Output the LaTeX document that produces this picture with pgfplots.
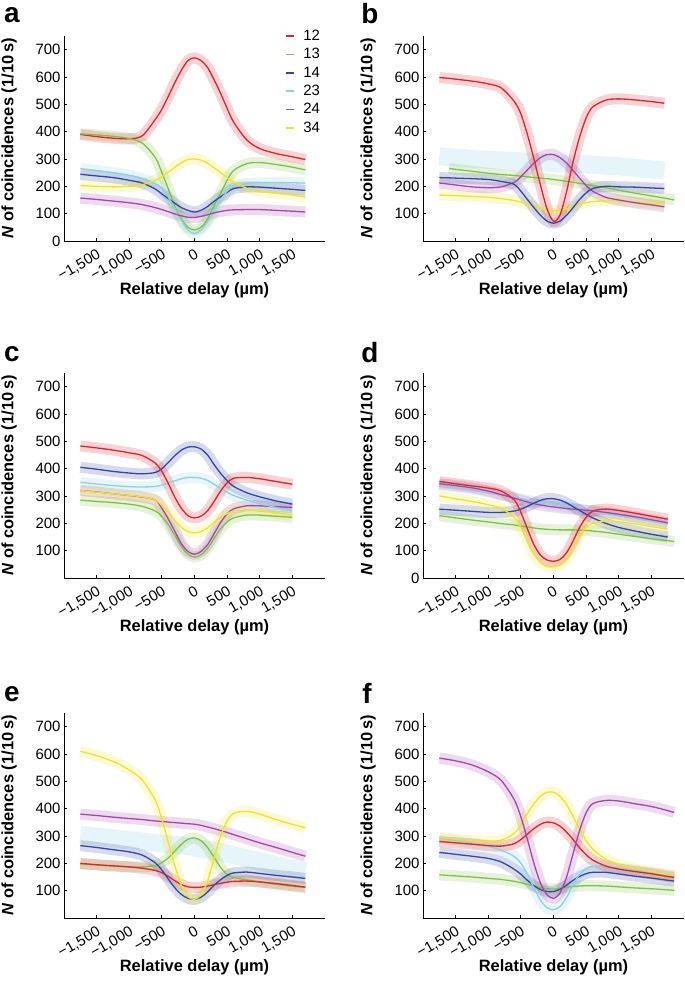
\documentclass[border=0pt]{standalone}
\usepackage{pgfplots}
\pgfplotsset{compat=1.18}
\usepackage{pgfplotstable}
\usepackage{fontspec}
\setmainfont{Liberation Sans}

\definecolor{c12}{RGB}{218,37,44}
\definecolor{c13}{RGB}{128,192,70}
\definecolor{c14}{RGB}{52,72,160}
\definecolor{c23}{RGB}{140,208,226}
\definecolor{c24}{RGB}{164,72,168}
\definecolor{c34}{RGB}{236,228,40}

% fitted curves (x in um, y in counts per 10 s)
\pgfplotstableread{
x s12 s13 s14 s23 s24 s34
-1750 390 392 244 265 157 203
-1500 382 388 238 258 152 200
-1250 376 383 232 250 146 198
-1000 374 375 222 240 140 200
-800 385 358 212 228 133 206
-600 445 305 190 210 122 222
-500 482 250 172 192 115 235
-400 530 190 155 160 107 252
-300 580 125 138 118 99 270
-200 625 80 122 75 92 287
-100 660 50 112 40 87 298
0 670 40 106 27 86 300
100 660 50 112 40 90 296
200 635 80 126 70 96 285
300 590 130 145 110 103 268
400 540 175 162 150 108 250
500 485 222 178 182 112 232
600 435 258 192 200 114 215
800 370 283 198 210 115 193
1000 338 287 197 213 115 182
1250 320 280 193 214 112 175
1500 308 270 189 213 109 168
1700 298 260 185 212 106 160
}\tabA

\pgfplotstableread{
x s12 s13 s14 s23 s24 s34
-1750 598 nan 232 310 212 168
-1600 595 266 231 307 208 167
-1500 592 262 230 305 205 166
-1250 585 255 228 300 198 163
-1000 575 248 225 297 195 160
-800 560 243 218 295 198 155
-600 510 240 207 293 215 148
-500 465 237 182 292 235 142
-400 390 235 152 290 260 135
-300 300 232 122 289 285 127
-200 205 230 94 288 305 119
-100 118 228 73 287 316 113
0 72 225 65 285 316 110
100 95 222 73 284 305 112
200 180 218 94 283 285 118
300 290 215 122 282 258 126
400 380 211 152 281 230 134
500 450 207 176 280 203 140
600 490 203 192 279 182 144
800 515 195 200 276 160 147
1000 520 186 198 273 150 146
1250 516 175 197 268 140 143
1500 510 165 194 262 132 139
1700 504 157 192 257 125 136
1850 nan 150 nan nan nan nan
}\tabB

\pgfplotstableread{
x s12 s13 s14 s23 s24 s34
-1750 483 285 405 350 320 320
-1500 476 280 398 344 315 314
-1250 468 276 390 338 308 308
-1000 458 270 384 334 302 302
-800 448 262 381 333 296 297
-600 420 245 386 335 285 285
-500 390 225 400 340 255 265
-400 345 195 423 348 215 240
-300 295 155 448 356 170 210
-200 255 115 468 363 125 185
-100 228 87 479 368 97 170
0 220 77 480 368 87 165
100 226 85 472 365 97 170
200 246 108 450 357 122 183
300 280 145 415 343 162 203
400 318 180 383 328 203 222
500 348 205 356 314 235 236
600 365 220 335 302 253 245
800 368 230 312 285 264 250
1000 363 230 297 272 264 245
1250 353 226 282 258 261 238
1500 343 222 270 246 258 230
}\tabC

\pgfplotstableread{
x s12 s13 s14 s23 s24 s34
-1750 353 228 252 340 345 300
-1500 345 220 248 333 338 290
-1250 337 212 244 325 330 280
-1000 329 205 240 315 318 268
-800 318 199 240 305 305 255
-600 285 194 245 295 292 222
-500 240 190 252 290 285 185
-400 180 187 262 285 278 135
-300 122 183 274 280 272 88
-200 84 180 284 276 267 57
-100 66 178 290 272 263 42
0 61 177 290 268 260 40
100 68 176 285 264 257 47
200 92 176 275 260 254 70
300 135 176 261 256 252 110
400 185 175 247 252 250 155
500 222 174 233 248 248 185
600 245 172 220 244 246 200
800 252 167 200 236 240 208
1000 247 160 185 228 233 205
1250 237 152 172 218 224 198
1500 226 144 160 208 213 188
1750 215 137 150 198 202 178
1850 nan 133 nan nan nan nan
}\tabD

\pgfplotstableread{
x s12 s13 s14 s23 s24 s34
-1750 200 198 265 305 380 610
-1500 195 194 258 298 375 594
-1250 191 190 250 292 369 573
-1000 187 187 242 285 364 542
-800 182 187 230 280 360 505
-600 174 192 202 275 355 430
-500 166 203 175 272 353 362
-400 152 220 142 270 351 275
-300 136 245 110 268 349 190
-200 122 270 86 265 347 118
-100 114 288 72 262 345 78
0 112 293 68 258 343 68
100 113 283 76 254 339 85
200 117 258 95 250 333 135
300 122 222 120 246 327 220
400 127 185 140 241 320 300
500 131 160 156 236 313 355
600 134 148 165 230 305 383
800 135 140 168 218 290 390
1000 132 132 163 207 275 380
1250 126 123 156 193 258 360
1500 119 116 150 180 240 343
1700 113 112 145 170 226 330
}\tabE

\pgfplotstableread{
x s12 s13 s14 s23 s24 s34
-1750 280 158 240 292 585 295
-1500 275 154 233 284 575 288
-1250 270 150 226 274 560 282
-1000 265 145 218 262 535 280
-800 263 141 205 248 503 285
-600 272 134 178 225 432 310
-500 287 129 160 200 370 342
-400 307 123 138 160 288 382
-300 327 117 118 110 200 418
-200 343 111 104 65 128 445
-100 351 107 97 38 85 460
0 348 106 97 30 72 460
100 336 108 105 42 92 445
200 314 112 120 75 150 415
300 287 115 138 122 235 372
400 257 117 152 160 320 325
500 232 118 162 180 385 283
600 212 118 167 190 418 252
800 190 117 167 190 430 215
1000 179 114 161 182 428 196
1250 170 110 153 174 418 182
1500 162 107 146 166 408 170
1750 152 103 138 158 393 158
1850 149 101 135 155 386 154
}\tabF

\pgfplotsset{
  panel/.style={
    scale only axis, width=261bp, height=205bp,
    anchor=south west,
    xmin=-2000, xmax=2000, ymin=0, ymax=750,
    axis x line*=bottom, axis y line*=left,
    tick pos=left, tick align=inside, major tick length=3bp,
    axis line style={line width=0.9bp},
    every tick/.style={line width=0.8bp, black},
    xtick={-1500,-1000,-500,0,500,1000,1500},
    xticklabels={{−1,500},{−1,000},{−500},0,500,{1,000},{1,500}},
    ytick={100,200,...,700},
    /pgf/number format/assume math mode=true,
    ticklabel style={font=\fontsize{15}{18}\selectfont},
    xticklabel style={rotate=30, anchor=north east, inner sep=1bp},
    xticklabel shift=6bp,
    xlabel={\textbf{Relative delay (µm)}},
    ylabel={\textbf{\textit{N} of coincidences (1/10\,s)}},
    label style={font=\fontsize{16.5}{20}\selectfont},
    xlabel style={at={(axis description cs:0.5,-0.24)}, anchor=center},
    ylabel style={at={(axis description cs:-0.21,0.5)}, anchor=center},
  },
  halo/.style={line width=11bp, opacity=0.2, smooth, no markers},
  fit/.style={line width=1.3bp, smooth, no markers},
}
\newcommand{\pts}[3]{\addplot[halo,#1,forget plot] table[x=x,y=#2]{#3};}
\newcommand{\fit}[3]{\addplot[fit,#1] table[x=x,y=#2]{#3};}
\newcommand{\letter}[3]{\node[font=\fontsize{28}{30}\selectfont\bfseries] at (#1bp,#2bp) {#3};}

\begin{document}
\begin{tikzpicture}
\useasboundingbox (0,0) rectangle (685bp,986bp);

% a
\begin{axis}[panel, at={(64bp,745bp)}, ytick={0,100,...,700},
  legend style={at={(0.845,1.04)}, anchor=north west, draw=none, fill=none,
    font=\fontsize{15}{18}\selectfont, row sep=2.5bp, inner sep=0pt,
    /tikz/every odd column/.append style={column sep=7bp}},
  legend cell align=left,
  legend image code/.code={\draw[#1,line width=1.6bp] (0bp,0bp) -- (8bp,0bp);}]
\pts{c34}{s34}{\tabA} \pts{c24}{s24}{\tabA} \pts{c23}{s23}{\tabA}
\pts{c14}{s14}{\tabA} \pts{c13}{s13}{\tabA} \pts{c12}{s12}{\tabA}
\fit{c12}{s12}{\tabA} \fit{c13}{s13}{\tabA} \fit{c14}{s14}{\tabA}
\fit{c23}{s23}{\tabA} \fit{c24}{s24}{\tabA} \fit{c34}{s34}{\tabA}
\legend{12,13,14,23,24,34}
\end{axis}

% b
\begin{axis}[panel, at={(423bp,745bp)}]
\addplot[halo,c23,line width=18bp,opacity=0.22] table[x=x,y=s23]{\tabB};
\pts{c34}{s34}{\tabB} \pts{c24}{s24}{\tabB} \pts{c14}{s14}{\tabB}
\pts{c13}{s13}{\tabB} \pts{c12}{s12}{\tabB}
\fit{c34}{s34}{\tabB} \fit{c13}{s13}{\tabB} \fit{c24}{s24}{\tabB}
\fit{c14}{s14}{\tabB} \fit{c12}{s12}{\tabB}
\end{axis}

% c
\begin{axis}[panel, at={(64bp,408bp)}]
\pts{c13}{s13}{\tabC} \pts{c24}{s24}{\tabC} \pts{c34}{s34}{\tabC}
\pts{c23}{s23}{\tabC} \pts{c14}{s14}{\tabC} \pts{c12}{s12}{\tabC}
\fit{c13}{s13}{\tabC} \fit{c24}{s24}{\tabC} \fit{c34}{s34}{\tabC}
\fit{c23}{s23}{\tabC} \fit{c14}{s14}{\tabC} \fit{c12}{s12}{\tabC}
\end{axis}

% d
\begin{axis}[panel, at={(423bp,408bp)}, ytick={0,100,...,700}]
\pts{c13}{s13}{\tabD} \pts{c23}{s23}{\tabD} \pts{c24}{s24}{\tabD}
\pts{c14}{s14}{\tabD} \pts{c34}{s34}{\tabD} \pts{c12}{s12}{\tabD}
\fit{c13}{s13}{\tabD} \fit{c23}{s23}{\tabD} \fit{c24}{s24}{\tabD}
\fit{c14}{s14}{\tabD} \fit{c34}{s34}{\tabD} \fit{c12}{s12}{\tabD}
\end{axis}

% e
\begin{axis}[panel, at={(64bp,68bp)}]
\addplot[halo,c23,line width=18bp,opacity=0.22] table[x=x,y=s23]{\tabE};
\pts{c24}{s24}{\tabE} \pts{c13}{s13}{\tabE} \pts{c12}{s12}{\tabE}
\pts{c14}{s14}{\tabE} \pts{c34}{s34}{\tabE}
\fit{c24}{s24}{\tabE} \fit{c13}{s13}{\tabE} \fit{c12}{s12}{\tabE}
\fit{c14}{s14}{\tabE} \fit{c34}{s34}{\tabE}
\end{axis}

% f
\begin{axis}[panel, at={(423bp,68bp)}]
\pts{c13}{s13}{\tabF} \pts{c14}{s14}{\tabF} \pts{c23}{s23}{\tabF}
\pts{c34}{s34}{\tabF} \pts{c12}{s12}{\tabF} \pts{c24}{s24}{\tabF}
\fit{c13}{s13}{\tabF} \fit{c14}{s14}{\tabF} \fit{c23}{s23}{\tabF}
\fit{c34}{s34}{\tabF} \fit{c12}{s12}{\tabF} \fit{c24}{s24}{\tabF}
\end{axis}

\letter{12}{971}{a}
\letter{370}{972}{b}
\letter{12}{632}{c}
\letter{370}{633}{d}
\letter{12}{292}{e}
\letter{367}{293}{f}
\end{tikzpicture}
\end{document}
